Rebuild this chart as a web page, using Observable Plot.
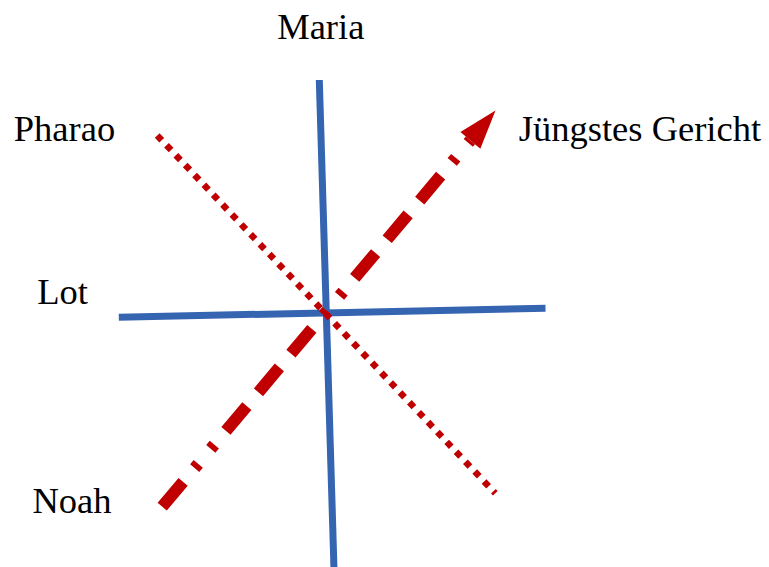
<!DOCTYPE html>
<html>
<head>
<meta charset="utf-8">
<script src="https://cdn.jsdelivr.net/npm/d3@7"></script>
<script src="https://cdn.jsdelivr.net/npm/@observablehq/plot@0.6"></script>
<style>
  html, body { margin: 0; padding: 0; background: #fff; }
  #chart svg { display: block; }
</style>
</head>
<body>
<div id="chart"></div>
<script>
// Diagram poles (page coordinates, y downwards)
const labels = ["Maria", "Pharao", "Lot", "Jüngstes Gericht", "Noah"];
const labelX = [276.7, 13.3, 36.7, 518.3, 32];
const labelY = [38.7, 140, 303.3, 140, 512];

// Blue axes: vertical (Maria) and horizontal (Lot)
const blueAxes = [
  {x1: 318.8, y1: 79.5, x2: 333.6, y2: 572},
  {x1: 118.3, y1: 316.7, x2: 545, y2: 307.8}
];
// Red dotted axis (Pharao)
const dottedAxis = [{x1: 156.7, y1: 134.9, x2: 494.8, y2: 492.8}];
// Red dashed arrow (Noah -> Jüngstes Gericht)
const arrowStart = [161.7, 506.2];
const arrowTip = [495, 110];

const headLength = 39, headHalf = 13;
const dx = arrowTip[0] - arrowStart[0], dy = arrowTip[1] - arrowStart[1];
const len = Math.hypot(dx, dy), ux = dx / len, uy = dy / len;
const base = [arrowTip[0] - ux * headLength, arrowTip[1] - uy * headLength];
const arrowShaft = [{x1: arrowStart[0], y1: arrowStart[1], x2: base[0], y2: base[1]}];
const head = [
  {x: arrowTip[0], y: arrowTip[1]},
  {x: base[0] - uy * headHalf, y: base[1] + ux * headHalf},
  {x: base[0] + uy * headHalf, y: base[1] - ux * headHalf}
];

const labelData = labels.map((t, i) => ({t, x: labelX[i], y: labelY[i]}));

const chart = Plot.plot({
  width: 769,
  height: 567,
  margin: 0,
  x: {domain: [0, 769], range: [0, 769], axis: null},
  y: {domain: [0, 567], range: [0, 567], axis: null},
  style: {background: "#fff"},
  marks: [
    Plot.link(blueAxes, {x1: "x1", y1: "y1", x2: "x2", y2: "y2",
      stroke: "#3565b0", strokeWidth: 7, strokeLinecap: "butt"}),
    Plot.link(dottedAxis, {x1: "x1", y1: "y1", x2: "x2", y2: "y2",
      stroke: "#c00000", strokeWidth: 6.5, strokeLinecap: "butt",
      strokeDasharray: "6.6,7"}),
    Plot.link(arrowShaft, {x1: "x1", y1: "y1", x2: "x2", y2: "y2",
      stroke: "#c00000", strokeWidth: 12, strokeLinecap: "butt",
      strokeDasharray: "32.5,18,32.5,18,32.5,18,5.5,19.5,5.5,18",
      strokeDashoffset: 101}),
    Plot.line(head, {x: "x", y: "y", fill: "#c00000", stroke: "none"}),
    Plot.text(labelData, {x: "x", y: "y", text: "t", textAnchor: "start",
      lineAnchor: "bottom", fontFamily: "Liberation Serif", fontSize: 36.5,
      fill: "#000"})
  ]
});
document.getElementById("chart").appendChild(chart);
</script>
</body>
</html>
